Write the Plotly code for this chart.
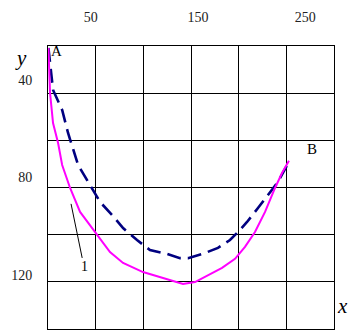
import plotly.graph_objects as go

# ---- data (in the chart's labelled units) ----
curve1_x = [10.5, 12.0, 14.8, 19.5, 23.3, 30.7, 40.0, 55.8, 67.9, 80.1, 98.7, 117.4,
            136.0, 147.2, 159.3, 172.4, 184.5, 193.8, 203.1, 212.5, 221.8, 228.3, 234.8]
curve1_y = [27.0, 45.4, 57.7, 65.9, 74.9, 84.3, 94.1, 103.5, 110.5, 115.0, 118.7, 121.1,
            123.6, 122.8, 119.9, 117.0, 113.3, 108.4, 102.3, 94.1, 84.3, 78.2, 73.2]

curve2_x = [10.5, 14.8, 23.3, 28.8, 38.2, 52.1, 58.6, 69.8, 80.1, 93.1, 105.2, 121.1,
            133.2, 140.7, 156.5, 168.6, 179.8, 187.3, 195.7, 205.9, 215.3, 224.6, 234.8]
curve2_y = [27.0, 44.2, 52.4, 61.8, 74.9, 85.1, 90.0, 95.3, 100.7, 105.6, 109.7, 111.3,
            113.0, 113.0, 110.9, 108.8, 105.6, 102.3, 98.2, 92.5, 87.2, 81.8, 73.6]

x_tick_vals = [50, 150, 250]
x_tick_text = ["50", "150", "250"]
y_tick_vals = [40, 80, 120]
y_tick_text = ["40", "80", "120"]

x_grid = [10.1, 54.6, 99.0, 143.5, 187.9, 232.4, 276.8]
y_grid = [26.2, 45.5, 64.8, 84.1, 103.4, 122.7, 142.0]

point_labels = ["A", "B"]
point_x = [17.6, 256.3]
point_y = [28.2, 68.3]

FONT = "Liberation Serif, Times New Roman, serif"

fig = go.Figure()
fig.add_trace(go.Scatter(x=curve2_x, y=curve2_y, mode="lines",
                         line=dict(color="#000080", width=2.6, dash="14px,7px"),
                         showlegend=False, hoverinfo="skip"))
fig.add_trace(go.Scatter(x=curve1_x, y=curve1_y, mode="lines",
                         line=dict(color="#FF00FF", width=2),
                         showlegend=False, hoverinfo="skip"))

for t, px_, py_ in zip(point_labels, point_x, point_y):
    fig.add_annotation(x=px_, y=py_, text=t, showarrow=False,
                       font=dict(family=FONT, size=15, color="black"))

# leader for curve "1"
fig.add_annotation(x=31.6, y=90.8, ax=43.7, ay=116.6, axref="x", ayref="y",
                   text="1", showarrow=True, arrowhead=0, arrowwidth=1,
                   arrowcolor="black", font=dict(family=FONT, size=14, color="black"))

# axis titles
fig.add_annotation(xref="paper", yref="paper", x=-0.122, y=1.007, text="<i>y</i>",
                   showarrow=False, font=dict(family=FONT, size=21, color="black"))
fig.add_annotation(xref="paper", yref="paper", x=1.056, y=0.032, text="<i>x</i>",
                   showarrow=False, font=dict(family=FONT, size=21, color="black"))

fig.update_xaxes(range=[x_grid[0], x_grid[-1]], side="top",
                 tickmode="array", tickvals=x_tick_vals, ticktext=x_tick_text,
                 ticks="", ticklabelstandoff=17, showgrid=False, zeroline=False,
                 showline=True, mirror=True, linecolor="black", linewidth=1,
                 tickfont=dict(family=FONT, size=14, color="#222"),
                 minor=dict(tickmode="array", tickvals=x_grid, showgrid=True,
                            gridcolor="black", gridwidth=1, ticks=""))
fig.update_yaxes(range=[y_grid[-1], y_grid[0]],
                 tickmode="array", tickvals=y_tick_vals, ticktext=y_tick_text,
                 ticks="", ticklabelstandoff=12, showgrid=False, zeroline=False,
                 showline=True, mirror=True, linecolor="black", linewidth=1,
                 tickfont=dict(family=FONT, size=14, color="#222"),
                 minor=dict(tickmode="array", tickvals=y_grid, showgrid=True,
                            gridcolor="black", gridwidth=1, ticks=""))

fig.update_layout(width=355, height=333, margin=dict(l=48, r=21, t=46, b=4),
                  plot_bgcolor="white", paper_bgcolor="white")

fig.write_html("out.html", config={"displayModeBar": False},
               post_script="document.body.style.margin='0';document.body.style.overflow='hidden';")
